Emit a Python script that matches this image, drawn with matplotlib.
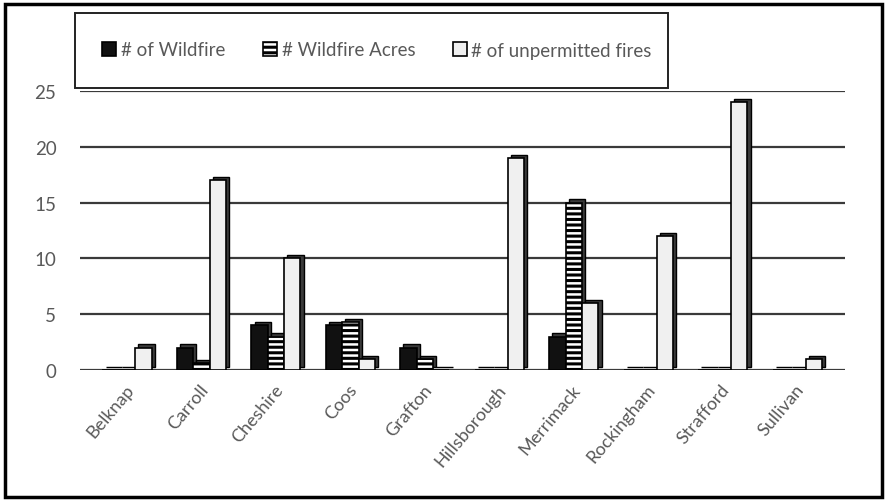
import matplotlib
matplotlib.use("Agg")
import matplotlib.pyplot as plt
import matplotlib.transforms as mtransforms
from matplotlib.patches import Rectangle
import numpy as np

counties = ["Belknap", "Carroll", "Cheshire", "Coos", "Grafton",
            "Hillsborough", "Merrimack", "Rockingham", "Strafford", "Sullivan"]
wildfires = [0, 2, 4, 4, 2, 0, 3, 0, 0, 0]
wildfire_acres = [0, 0.6, 3, 4.3, 1, 0, 15, 0, 0, 0]
unpermitted = [2, 17, 10, 1, 0, 19, 6, 12, 24, 1]
series_names = ["# of Wildfire", "# Wildfire Acres", "# of unpermitted fires"]
yticks = [0, 5, 10, 15, 20, 25]

plt.rcParams['font.family'] = ['Lato', 'DejaVu Sans']
plt.rcParams['hatch.linewidth'] = 2.2
plt.rcParams['hatch.color'] = 'black'

TXT = '#595959'
fig = plt.figure(figsize=(8.88, 5.02), dpi=100)
ax = fig.add_axes([80/888, 1-371/502, (845-80)/888, (371-92)/502])

x = np.arange(len(counties))
w = 0.22
styles = [dict(facecolor='#111111', hatch=None),
          dict(facecolor='white', hatch='---'),
          dict(facecolor='#f0f0f0', hatch=None)]
shadow = mtransforms.offset_copy(ax.transData, fig=fig, x=2.3, y=2.3, units='points')
for i, (vals, st) in enumerate(zip([wildfires, wildfire_acres, unpermitted], styles)):
    pos = x + (i - 1) * w + 0.03
    ax.bar(pos, vals, width=w, color='#3a3a3a', edgecolor='black', linewidth=1.0,
           transform=shadow, zorder=2)
    ax.bar(pos, vals, width=w, facecolor=st['facecolor'], hatch=st['hatch'],
           edgecolor='black', linewidth=1.2, zorder=3, label=series_names[i])

ax.set_ylim(0, 25)
ax.set_xlim(-0.6, 9.67)
ax.set_yticks(yticks)
ax.set_yticklabels([str(t) for t in yticks], fontsize=13.5, color=TXT)
ax.set_xticks(x)
ax.set_xticklabels(counties, rotation=50, ha='right', rotation_mode='anchor',
                   fontsize=13, color=TXT)
ax.tick_params(axis='both', length=0)
ax.tick_params(axis='y', pad=17)
ax.tick_params(axis='x', pad=8)
ax.yaxis.grid(True, color='#3a3a3a', linewidth=1.6, zorder=0)
ax.set_axisbelow(True)
for s in ax.spines.values():
    s.set_visible(False)

# legend box
fig.patches.append(Rectangle((75/888, 1-89/502), (668-75)/888, (89-14)/502,
                             transform=fig.transFigure, fill=False,
                             edgecolor='#222222', linewidth=1.4))
handles, labels = ax.get_legend_handles_labels()
leg = fig.legend(handles, labels, loc='center', bbox_to_anchor=(377/888, 1-51/502),
                 ncol=3, frameon=False, fontsize=13.5, handlelength=0.75,
                 handleheight=0.75, handletextpad=0.25, columnspacing=2.0)
for t in leg.get_texts():
    t.set_color(TXT)

# outer border
fig.patches.append(Rectangle((5/888, 4/502), 877/888, 493/502,
                             transform=fig.transFigure, fill=False,
                             edgecolor='black', linewidth=2.5))

fig.savefig('out.png', dpi=100)
